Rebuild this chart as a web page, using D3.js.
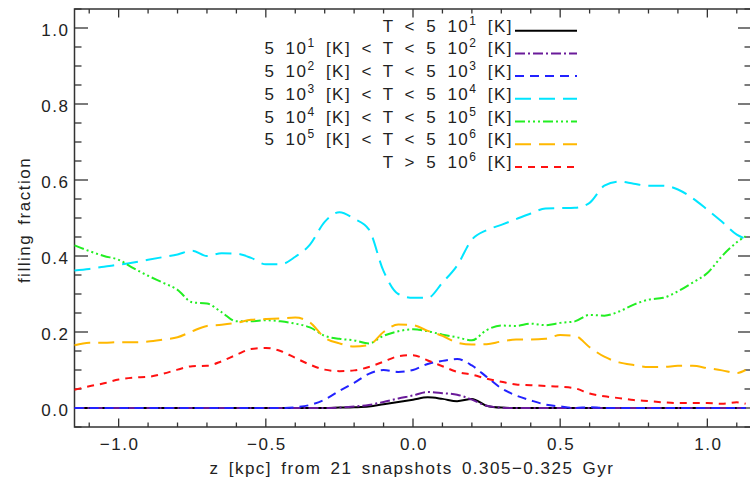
<!DOCTYPE html>
<html><head><meta charset="utf-8">
<script src="https://cdn.jsdelivr.net/npm/d3@7"></script>
<style>
body{margin:0;background:#fff;}
svg{display:block;font-family:"Liberation Sans",Arial,sans-serif;}
text{fill:#222;}
</style></head>
<body><svg id="c" width="750" height="477"></svg>
<script>
const xs = [-1.15,-1.10,-1.05,-1.00,-0.95,-0.90,-0.85,-0.80,-0.75,-0.70,-0.65,-0.60,-0.55,-0.50,-0.45,-0.40,-0.35,-0.30,-0.25,-0.20,-0.15,-0.10,-0.05,0.00,0.05,0.10,0.15,0.20,0.25,0.30,0.35,0.40,0.45,0.50,0.55,0.60,0.65,0.70,0.75,0.80,0.85,0.90,0.95,1.00,1.05,1.10,1.13];

const blackVals = [0,0,0,0,0,0,0,0,0,0,0,0,0,0,0,0,0,
  0,0.001,0.002,0.004,0.010,0.016,0.022,0.028,0.024,0.018,0.024,0.006,0.001,
  0,0,0,0,0,0,0,0,0,0,0,0,0,0,0,0,0];
const purpleVals = [0,0,0,0,0,0,0,0,0,0,0,0,0,0,0,0,0,
  0,0.001,0.004,0.008,0.016,0.025,0.033,0.042,0.039,0.035,0.022,0.006,0.001,
  0,0,0,0,0,0,0,0,0,0,0,0,0,0,0,0,0];
const blueVals = [0,0,0,0,0,0,0,0,0,0,0,0,0,0,0,
  0.002,0.008,0.022,0.045,0.066,0.090,0.100,0.095,0.100,0.116,0.124,0.129,0.112,0.082,0.052,0.033,0.020,0.009,0.004,0,0.002,
  0,0,0,0,0,0,0,0,0,0,0];
const cyanVals = [0.362,0.366,0.372,0.377,0.383,0.390,0.397,0.404,0.414,0.400,0.407,0.406,0.395,0.378,0.378,0.398,0.430,0.490,0.515,0.498,0.470,0.360,0.300,0.290,0.290,0.330,0.375,0.443,0.468,0.482,0.497,0.512,0.525,0.526,0.527,0.540,0.585,0.596,0.590,0.585,0.585,0.575,0.552,0.522,0.490,0.456,0.445];
const greenVals = [0.428,0.413,0.400,0.390,0.368,0.348,0.330,0.311,0.278,0.275,0.252,0.228,0.228,0.231,0.228,0.222,0.212,0.190,0.182,0.178,0.170,0.190,0.202,0.207,0.202,0.193,0.186,0.178,0.205,0.217,0.216,0.222,0.218,0.224,0.228,0.245,0.243,0.254,0.272,0.285,0.290,0.307,0.330,0.355,0.400,0.436,0.452];
const orangeVals = [0.165,0.172,0.172,0.173,0.173,0.175,0.180,0.186,0.202,0.216,0.219,0.224,0.232,0.234,0.236,0.238,0.225,0.185,0.170,0.162,0.166,0.200,0.220,0.218,0.203,0.190,0.172,0.167,0.168,0.175,0.180,0.180,0.182,0.192,0.190,0.160,0.135,0.120,0.113,0.108,0.108,0.111,0.111,0.105,0.099,0.092,0.100];
const redVals = [0.048,0.057,0.065,0.075,0.080,0.082,0.090,0.101,0.110,0.111,0.123,0.140,0.155,0.158,0.150,0.132,0.114,0.101,0.097,0.099,0.108,0.122,0.136,0.139,0.125,0.110,0.095,0.088,0.077,0.069,0.062,0.060,0.058,0.056,0.052,0.038,0.031,0.026,0.021,0.018,0.015,0.013,0.013,0.013,0.011,0.015,0.011];

const seriesLabels = ["T < 5 10^1 [K]","5 10^1 [K] < T < 5 10^2 [K]","5 10^2 [K] < T < 5 10^3 [K]","5 10^3 [K] < T < 5 10^4 [K]","5 10^4 [K] < T < 5 10^5 [K]","5 10^5 [K] < T < 5 10^6 [K]","T > 5 10^6 [K]"];
const seriesValues = [blackVals,purpleVals,blueVals,cyanVals,greenVals,orangeVals,redVals];
const seriesColors = ["#000000","#6a1b9a","#2222ff","#00e5ff","#22ee22","#ffb800","#ff1111"];
const seriesDash = ["none","10,3,2,3","9,6","16,8","10,3,2,3,2,3,2,3","16,8","7,6"];

const xTicks = [-1.0,-0.5,0.0,0.5,1.0];
const yTicks = [0.0,0.2,0.4,0.6,0.8,1.0];
const xLabel = "z [kpc] from 21 snapshots 0.305\u22120.325 Gyr";
const yLabel = "filling fraction";

const svg = d3.select("#c");
const L=74.5, R=751.5, T=9, B=427;
const x = d3.scaleLinear().domain([-1.15,1.15]).range([L,R]);
const y = d3.scaleLinear().domain([-0.05,1.05]).range([B,T]);
const fmt = v => (v<0?"\u2212":"") + Math.abs(v).toFixed(1);

const axCol="#333";
svg.append("rect").attr("x",L).attr("y",T).attr("width",R-L).attr("height",B-T).attr("fill","none").attr("stroke",axCol).attr("stroke-width",1.5);

const xMinor = d3.range(-11,12).map(i=>i/10);
const yMinor = d3.range(-1,22).map(i=>i*0.05).filter(v=>v>=-0.05&&v<=1.05);
const tk = svg.append("g").attr("stroke",axCol).attr("stroke-width",1.3);
xMinor.forEach(v=>{
  const major = Math.abs(Math.round(v*2)-v*2)<1e-6;
  const len = major?8.5:4.5;
  tk.append("line").attr("x1",x(v)).attr("x2",x(v)).attr("y1",B).attr("y2",B-len);
  tk.append("line").attr("x1",x(v)).attr("x2",x(v)).attr("y1",T).attr("y2",T+len);
});
yMinor.forEach(v=>{
  const major = Math.abs(Math.round(v*5)-v*5)<1e-6;
  const len = major?13.5:7;
  tk.append("line").attr("y1",y(v)).attr("y2",y(v)).attr("x1",L).attr("x2",L+len);
  tk.append("line").attr("y1",y(v)).attr("y2",y(v)).attr("x1",R).attr("x2",R-len);
});

const fs = 17;
xTicks.forEach(v=>{
  svg.append("text").attr("x",x(v)+1).attr("y",B+23).attr("text-anchor","middle")
    .attr("font-size",fs).style("letter-spacing","1.5px").text(fmt(v));
});
yTicks.forEach(v=>{
  svg.append("text").attr("x",L-5).attr("y",y(v)+7.5).attr("text-anchor","end")
    .attr("font-size",fs).style("letter-spacing","1.5px").text(fmt(v));
});
svg.append("text").attr("x",(L+R)/2-1).attr("y",474).attr("text-anchor","middle")
  .attr("font-size",fs).style("letter-spacing","1.5px").style("word-spacing","3px").text(xLabel);
svg.append("text").attr("transform",`translate(29.5,${(T+B)/2+2}) rotate(-90)`).attr("text-anchor","middle")
  .attr("font-size",fs).style("letter-spacing","1.5px").style("word-spacing","3px").text(yLabel);

// lines
const line = d3.line().x(d=>x(d[0])).y(d=>y(d[1])).curve(d3.curveMonotoneX);
const plot = svg.append("g");
seriesValues.forEach((vals,i)=>{
  plot.append("path").datum(xs.map((xv,j)=>[xv,vals[j]]))
    .attr("d",line).attr("fill","none").attr("stroke",seriesColors[i])
    .attr("stroke-width",2).attr("stroke-dasharray",seriesDash[i]);
});

// legend
const lg = svg.append("g");
const rowY0 = 30.7, rowH = 22.7, textRight = 513, lx1 = 515, lx2 = 577;
seriesLabels.forEach((lab,i)=>{
  const yy = rowY0 + i*rowH;
  const t = lg.append("text").attr("x",textRight).attr("y",yy+1).attr("text-anchor","end")
    .attr("font-size",fs).style("letter-spacing","1.5px").style("word-spacing","4px").style("white-space","pre");
  const parts = lab.split(/(\^\d)/);
  let raised=false;
  parts.forEach(p=>{
    if(!p) return;
    if(p[0]==="^"){
      t.append("tspan").attr("dy",-7).attr("font-size",12).text(p.slice(1));
      raised=true;
    } else {
      const ts = t.append("tspan").text(p);
      if(raised){ ts.attr("dy",7); raised=false; }
    }
  });
  lg.append("line").attr("x1",lx1).attr("x2",lx2).attr("y1",yy).attr("y2",yy)
    .attr("stroke",seriesColors[i]).attr("stroke-width",2).attr("stroke-dasharray",seriesDash[i]);
});
</script></body></html>
